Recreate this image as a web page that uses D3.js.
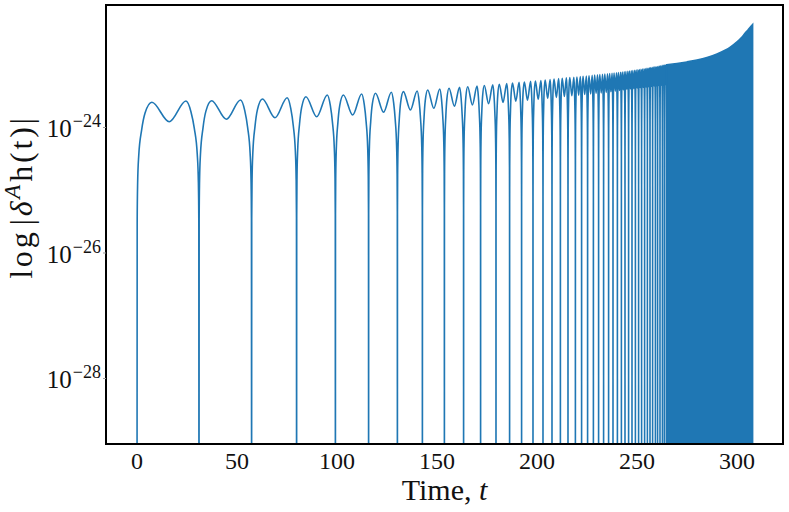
<!DOCTYPE html>
<html><head><meta charset="utf-8">
<script src="https://cdn.jsdelivr.net/npm/d3@7/dist/d3.min.js"></script>
<style>body{margin:0;background:#fff}svg{display:block}</style>
</head><body><svg id="c" width="789" height="512"></svg>
<script>
// zero crossings of δA_h(t)
const zeros = [0, 31.0, 57.3, 79.8, 99.2, 115.8, 130.2, 142.7, 153.7, 163.3, 171.8, 179.5, 186.3, 192.3, 198.0,
  203.0, 207.5, 211.7, 215.5, 219.2, 222.3, 225.3, 228.2, 230.8, 233.3, 235.8, 238.0, 240.2, 242.2, 244.0,
  245.8, 247.5, 249.2, 250.8, 252.3, 253.8, 255.2, 256.5, 257.8, 259.2, 260.3, 261.5, 262.7, 263.7, 264.8];
// per-lobe log10 values: first hump, dip between humps, second hump
const peakA = [-23.598, -23.573, -23.546, -23.509, -23.482, -23.455, -23.429, -23.402, -23.375, -23.350,
  -23.330, -23.310, -23.290, -23.275, -23.260, -23.245, -23.230, -23.215, -23.205, -23.195, -23.185, -23.175,
  -23.165, -23.157, -23.148, -23.140, -23.132, -23.124, -23.116, -23.108, -23.100, -23.092, -23.084, -23.076,
  -23.068, -23.060, -23.052, -23.045, -23.038, -23.031, -23.024, -23.017, -23.010, -23.003];
const dipV = [-23.908, -23.869, -23.844, -23.828, -23.801, -23.758, -23.721, -23.694, -23.660, -23.640,
  -23.620, -23.600, -23.580, -23.565, -23.550, -23.535, -23.520, -23.505, -23.495, -23.485, -23.475, -23.465,
  -23.455, -23.450, -23.440, -23.430, -23.420, -23.410, -23.400, -23.390, -23.385, -23.380, -23.370, -23.365,
  -23.360, -23.355, -23.350, -23.345, -23.340, -23.335, -23.330, -23.325, -23.320, -23.315];
const peakB = [-23.578, -23.562, -23.525, -23.482, -23.466, -23.439, -23.418, -23.386, -23.360, -23.340,
  -23.320, -23.300, -23.280, -23.265, -23.250, -23.235, -23.222, -23.210, -23.200, -23.190, -23.180, -23.170,
  -23.160, -23.153, -23.145, -23.136, -23.128, -23.120, -23.112, -23.104, -23.096, -23.088, -23.080, -23.072,
  -23.064, -23.056, -23.048, -23.041, -23.034, -23.027, -23.020, -23.013, -23.006, -22.999];
// lobe edge profile read from first lobe: [fraction of interval from zero, log10 offset from hump]
const edgeFrac = [0.003, 0.010, 0.028, 0.075, 0.13];
const edgeOff  = [-1.9, -1.3, -0.85, -0.44, -0.17];
const humpFrac = [0.24, 0.52, 0.79];
// unresolved dense region: upper envelope (t, log10)
const denseT   = [264.8, 270, 275, 280, 285, 290, 294, 297, 300, 302, 304, 305.5, 306.8, 307.8];
const denseEnv = [-23.00, -22.98, -22.955, -22.925, -22.885, -22.83, -22.77, -22.71, -22.635, -22.575, -22.50, -22.445, -22.395, -22.36];
const xTicks = [0, 50, 100, 150, 200, 250, 300];
const yTickExp = [-24, -26, -28];

const FLOOR = -31;
const L = 106, R = 783, T = 5, B = 444;
const x = d3.scaleLinear().domain([-15.5, 323]).range([L, R]);
const y = d3.scaleLog().domain([Math.pow(10, -29.044), Math.pow(10, -22.048)]).range([B, T]);
const svg = d3.select('#c');
const color = '#1f77b4';
const font = "'Liberation Serif','Times New Roman',serif";
const ink = '#111';

svg.append('clipPath').attr('id', 'clip').append('rect')
  .attr('x', L).attr('y', T).attr('width', R - L).attr('height', B - T);

// build the resolved curve
const pts = [];
for (let i = 0; i < zeros.length - 1; i++) {
  const z0 = zeros[i], z1 = zeros[i + 1], d = z1 - z0;
  if (i === 0) pts.push([z0, FLOOR]);
  edgeFrac.forEach((f, k) => pts.push([z0 + f * d, peakA[i] + edgeOff[k]]));
  pts.push([z0 + humpFrac[0] * d, peakA[i]]);
  pts.push([z0 + humpFrac[1] * d, dipV[i]]);
  pts.push([z0 + humpFrac[2] * d, peakB[i]]);
  for (let k = edgeFrac.length - 1; k >= 0; k--) pts.push([z1 - edgeFrac[k] * d, peakB[i] + edgeOff[k]]);
  pts.push([z1, FLOOR]);
}
const g = svg.append('g').attr('clip-path', 'url(#clip)');
const line = d3.line().x(d => x(d[0])).y(d => y(Math.pow(10, d[1]))).curve(d3.curveMonotoneX);
g.append('path').datum(pts).attr('d', line).attr('fill', 'none').attr('stroke', color)
  .attr('stroke-width', 1.6).attr('stroke-linejoin', 'round');

const dense = denseT.map((t, i) => [t, denseEnv[i]]);
const area = d3.area().x(d => x(d[0])).y0(y(Math.pow(10, FLOOR))).y1(d => y(Math.pow(10, d[1]))).curve(d3.curveMonotoneX);
g.append('path').datum(dense).attr('d', area).attr('fill', color).attr('stroke', color).attr('stroke-width', 1.6);

// frame
svg.append('rect').attr('x', L).attr('y', T).attr('width', R - L).attr('height', B - T)
  .attr('fill', 'none').attr('stroke', '#000').attr('stroke-width', 2);

// x ticks
xTicks.forEach(t => {
  svg.append('text').attr('x', x(t)).attr('y', 469).attr('text-anchor', 'middle')
    .attr('font-family', font).attr('font-size', 24).attr('fill', ink).text(t);
});
// y ticks
yTickExp.forEach(e => {
  const yy = y(Math.pow(10, e));
  svg.append('line').attr('x1', L - 3).attr('x2', L).attr('y1', yy).attr('y2', yy)
    .attr('stroke', '#999').attr('stroke-width', 1);
  const tx = svg.append('text').attr('x', 101).attr('y', yy + 10).attr('text-anchor', 'end')
    .attr('font-family', font).attr('font-size', 25).attr('fill', ink);
  tx.append('tspan').text('10');
  tx.append('tspan').attr('dy', -10).attr('dx', 1).attr('font-size', 18).text('\u2212' + Math.abs(e));
});
// axis labels
svg.append('text').attr('x', (L + R) / 2).attr('y', 500).attr('text-anchor', 'middle')
  .attr('font-family', font).attr('font-size', 30).attr('fill', ink)
  .call(t => { t.append('tspan').text('Time, '); t.append('tspan').attr('font-style', 'italic').text('t'); });
const yl = svg.append('text').attr('transform', 'translate(32,197) rotate(-90)').attr('text-anchor', 'middle')
  .attr('font-family', font).attr('font-size', 32).attr('fill', ink).attr('letter-spacing', 2.8);
yl.append('tspan').text('log');
yl.append('tspan').attr('dx', 4).text('|');
yl.append('tspan').attr('font-style', 'italic').text('δ');
yl.append('tspan').attr('dy', -12).attr('font-size', 23).attr('font-style', 'italic').text('A');
yl.append('tspan').attr('dy', 12).text('h(t)|');
</script></body></html>
